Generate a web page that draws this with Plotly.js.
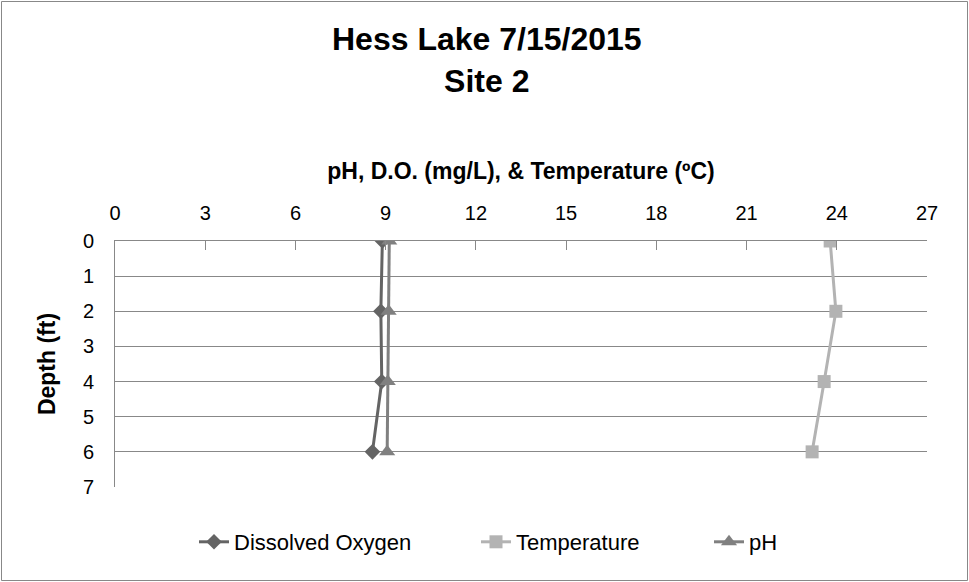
<!DOCTYPE html>
<html>
<head>
<meta charset="utf-8">
<script src="https://cdn.plot.ly/plotly-3.0.1.min.js"></script>
<style>html,body{margin:0;padding:0;background:#fff}#chart{width:969px;height:582px}</style>
</head>
<body>
<div id="chart"></div>
<script>
const depth = [0, 2, 4, 6];
const dissolvedOxygen = [8.89, 8.84, 8.87, 8.56];
const temperature = [23.78, 23.97, 23.58, 23.18];
const pH = [9.12, 9.10, 9.07, 9.05];
const xTicks = [0, 3, 6, 9, 12, 15, 18, 21, 24, 27];
const yTicks = [0, 1, 2, 3, 4, 5, 6, 7];

const FONT = '"Liberation Sans", Arial, sans-serif';

const traces = [
  {x: dissolvedOxygen, y: depth, name: 'Dissolved Oxygen', mode: 'lines+markers', legend: 'legend',
   line: {color: '#646464', width: 3}, marker: {symbol: 'diamond', size: 12, color: '#646464'}},
  {x: temperature, y: depth, name: 'Temperature', mode: 'lines+markers', legend: 'legend2',
   line: {color: '#b3b3b3', width: 3}, marker: {symbol: 'square', size: 13, color: '#b3b3b3'}},
  {x: pH, y: depth, name: 'pH', mode: 'lines+markers', legend: 'legend3',
   line: {color: '#808080', width: 3}, marker: {symbol: 'triangle-up', size: 14, color: '#808080'}}
];

const W = 812, H = 246, L = 115, B = 487;
function leg(px) {
  return {orientation: 'h', x: (px - L) / W, xanchor: 'left', y: (B - 542) / H, yanchor: 'middle',
          font: {size: 22}, bgcolor: 'rgba(0,0,0,0)'};
}
const layout = {
  width: 969, height: 582,
  margin: {l: L, r: 969 - 927, t: 241, b: 582 - B},
  paper_bgcolor: '#ffffff', plot_bgcolor: '#ffffff',
  font: {family: FONT, color: '#000000', size: 20},
  xaxis: {
    side: 'top', range: [0, 27], tickvals: xTicks, ticktext: xTicks.map(String),
    showgrid: false, zeroline: false, showline: true, linecolor: '#888888', linewidth: 1,
    ticks: 'inside', ticklen: 9, tickcolor: '#888888', tickfont: {size: 20}, ticklabelstandoff: 12,
    title: {text: '<b>pH, D.O. (mg/L), &amp; Temperature (ºC)</b>', font: {size: 23}, standoff: 15},
    fixedrange: true
  },
  yaxis: {
    range: [7, 0], tickvals: yTicks, ticktext: yTicks.map(String),
    showgrid: true, gridcolor: '#888888', gridwidth: 1, zeroline: false,
    showline: true, linecolor: '#888888', linewidth: 1, ticks: '', tickfont: {size: 20}, ticklabelstandoff: 16,
    title: {text: '<b>Depth (ft)</b>', font: {size: 23}, standoff: 20}, fixedrange: true
  },
  annotations: [{text: '<b>Hess Lake 7/15/2015<br>Site 2</b>', xref: 'paper', yref: 'paper',
                 x: (487 - L) / W, y: (B - 59.5) / H, xanchor: 'center', yanchor: 'middle', showarrow: false,
                 font: {family: FONT, size: 32, color: '#000'}}],
  showlegend: true,
  legend: leg(194),
  legend2: leg(476),
  legend3: leg(709),
  shapes: [{type: 'rect', xref: 'paper', yref: 'paper',
            x0: (1.5 - L) / W, x1: (967.5 - L) / W, y0: (B - 580.5) / H, y1: (B - 1.5) / H,
            line: {color: '#888888', width: 1}, fillcolor: 'rgba(0,0,0,0)', layer: 'below'}]
};

Plotly.newPlot('chart', traces, layout, {displayModeBar: false, staticPlot: true});
</script>
</body>
</html>
